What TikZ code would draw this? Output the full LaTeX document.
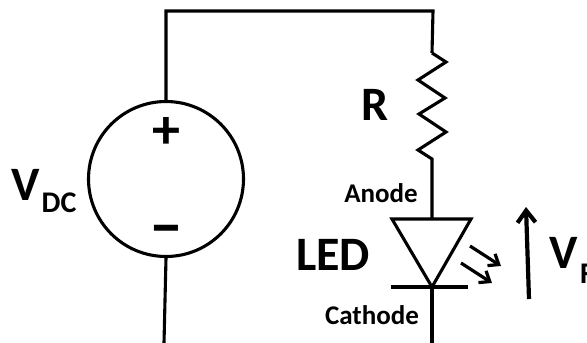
\documentclass[tikz,border=0pt]{standalone}
\usepackage{fontspec}
\setmainfont{Carlito}
\usepackage{tikz}
\usetikzlibrary{arrows.meta}
\tikzstyle{wire} = [line width=3.1pt, line join=miter]
\tikzstyle{arrow} = [->, line width=3.2pt, >={Straight Barb[length=9pt,width=14pt]}]
\tikzstyle{bigArrow} = [->, line width=4.2pt, >={Straight Barb[length=12pt,width=18pt]}]
\tikzstyle{source} = [draw, circle, line width=3.1pt, minimum size=155pt, inner sep=0]
\tikzstyle{bigLabel} = [inner sep=0, anchor=base, font=\fontsize{48}{48}\selectfont\bfseries]
\tikzstyle{subLabel} = [inner sep=0, anchor=base, font=\fontsize{30}{30}\selectfont\bfseries]
\tikzstyle{pinLabel} = [inner sep=0, anchor=base, font=\fontsize{27}{27}\selectfont\bfseries]

\begin{document}
\begin{tikzpicture}[x=1pt, y=-1pt]
        \useasboundingbox (0,0) rectangle (587,343);
        \node [source] (vdc) at (166,179) {};
        \node [bigLabel, font=\fontsize{56}{56}\selectfont\bfseries] (plus) at (166,148) {+};
        \node [bigLabel, font=\fontsize{68}{68}\selectfont\bfseries] (minus) at (166,247) {--};
        \node [bigLabel] (vLabel) at (26,200) {V};
        \node [subLabel] (dcLabel) at (59,212) {DC};
        \node [bigLabel] (rLabel) at (375,120) {R};
        \node [bigLabel] (ledLabel) at (333,270) {LED};
        \node [pinLabel] (anodeLabel) at (381,202) {Anode};
        \node [pinLabel] (cathodeLabel) at (372,324) {Cathode};
        \node [bigLabel] (vfLabel) at (564,268) {V};
        \node [subLabel] (fLabel) at (587,283) {F};

        \coordinate (cornerL) at (166,11);
        \coordinate (cornerR) at (433,11);
        \coordinate (rTop) at (432,53);
        \coordinate (rBottom) at (432,159);
        \coordinate (ledTop) at (432,219);
        \coordinate (ledLeft) at (392,219);
        \coordinate (ledRight) at (471,219);
        \coordinate (ledTip) at (432,287);
        \coordinate (barLeft) at (391,287);
        \coordinate (barRight) at (468,287);
        \coordinate (srcEnd) at (164,343);
        \coordinate (ledEnd) at (432,343);
        \coordinate (ray1a) at (470,246);
        \coordinate (ray1b) at (501,266);
        \coordinate (ray2a) at (461,263);
        \coordinate (ray2b) at (492,283);
        \coordinate (vfStart) at (529,299);
        \coordinate (vfEnd) at (526,207);

        \draw [wire] (vdc.north) -- (cornerL) -- (cornerR) -- (rTop);
        \draw [wire] (rTop) -- (446,62) -- (418,80) -- (445,98) -- (419,114) -- (446,132) -- (418,150) -- (rBottom) -- (ledTop);
        \draw [wire] (ledLeft) -- (ledRight) -- (ledTip) -- cycle;
        \draw [wire, line width=3.8pt] (barLeft) -- (barRight);
        \draw [wire] (ledTip) -- (ledEnd);
        \draw [wire] (vdc.south) -- (srcEnd);
        \path [arrow] (ray1a) edge (ray1b);
        \path [arrow] (ray2a) edge (ray2b);
        \path [bigArrow] (vfStart) edge (vfEnd);
    \end{tikzpicture}
\end{document}
